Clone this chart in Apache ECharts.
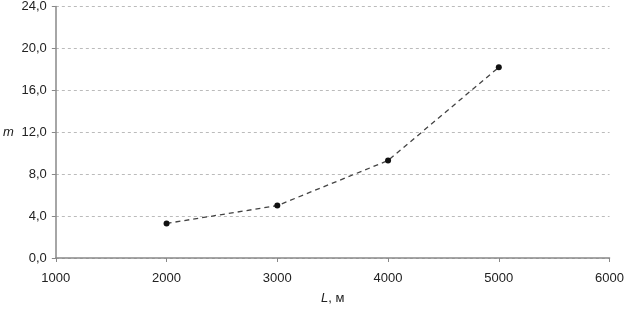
<!DOCTYPE html>
<html><head><meta charset="utf-8">
<script src="https://cdn.jsdelivr.net/npm/echarts@6/dist/echarts.min.js"></script>
<style>html,body{margin:0;padding:0;background:#fff}#c{width:627px;height:310px}</style>
</head><body><div id="c"></div>
<script>
const lengths = [2000, 3000, 4000, 5000];
const mValues = [3.3, 5.0, 9.3, 18.2];
const xTicks = [1000, 2000, 3000, 4000, 5000, 6000];
const yTicks = [0, 4, 8, 12, 16, 20, 24];

const chart = echarts.init(document.getElementById('c'));
const font = 'Liberation Sans, Arial, sans-serif';
chart.setOption({
  animation: false,
  grid: {left: 53, right: 15, top: 5, bottom: 45},
  xAxis: {
    type: 'value', min: xTicks[0], max: xTicks[xTicks.length-1], interval: 1000,
    axisLine: {lineStyle: {color: '#888', width: 1.5}},
    axisTick: {show: true, length: 4, lineStyle: {color: '#888'}},
    splitLine: {show: false},
    axisLabel: {color: '#222', fontSize: 13, fontFamily: font, margin: 14,
      formatter: v => String(v)},
    name: '{i|L}, м', nameLocation: 'middle', nameGap: 34,
    nameTextStyle: {color: '#222', fontSize: 13, fontFamily: font,
      rich: {i: {fontStyle: 'italic', fontSize: 13, fontFamily: font, color: '#222'}}}
  },
  yAxis: {
    type: 'value', min: yTicks[0], max: yTicks[yTicks.length-1], interval: 4,
    axisLine: {show: true, lineStyle: {color: '#888', width: 1.5}},
    axisTick: {show: true, length: 4, lineStyle: {color: '#888'}},
    splitLine: {show: true, lineStyle: {color: '#bbb', type: [3, 3], width: 1}},
    axisLabel: {color: '#222', fontSize: 13, fontFamily: font, margin: 9,
      formatter: v => v.toFixed(1).replace('.', ',')},
    name: 'm', nameLocation: 'middle', nameRotate: 0, nameGap: 42,
    nameTextStyle: {color: '#222', fontSize: 13, fontFamily: font, fontStyle: 'italic'}
  },
  series: [{
    type: 'line',
    data: lengths.map((x, i) => [x, mValues[i]]),
    symbol: 'circle', symbolSize: 6,
    itemStyle: {color: '#111'},
    lineStyle: {color: '#444', width: 1.3, type: [5, 4]}
  }]
});
</script></body></html>
